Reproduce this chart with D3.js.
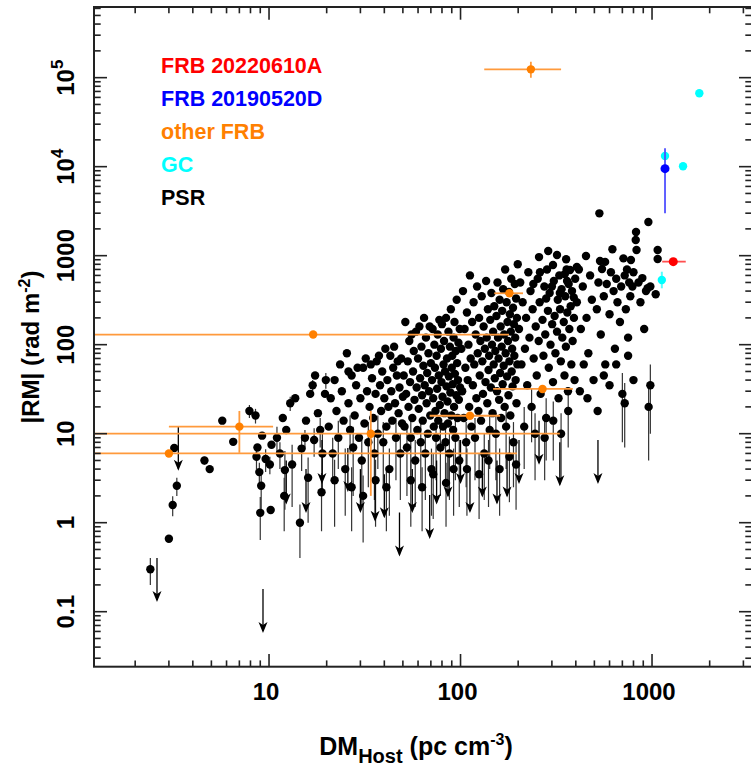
<!DOCTYPE html>
<html><head><meta charset="utf-8">
<script src="https://cdn.jsdelivr.net/npm/d3@7"></script>
<style>
body{margin:0;background:#fff}
text{font-family:"Liberation Sans",Arial,Helvetica,sans-serif;font-weight:bold}
</style></head>
<body><svg id="c" width="751" height="769"></svg>
<script>
// ---------------- data ----------------
// pulsars with measured RM, as [DM, |RM|, RM error] (error optional)
const psrLowDM = [[2.4,0.3,0.1],[3.0,0.66],[3.14,1.58,0.4],[3.3,2.6,0.6],[3.2,6.9],[4.6,5.0,0.5],[4.9,4.0],
 [5.7,14],[6.5,8.1],[7.9,18,3],[8.5,16,3],[8.6,5.5,1.5],[8.7,7.0],[8.9,3.7,1],[9.0,1.29,0.65],[10.2,1.39],
 [9.2,9.5],[9.1,2.6,1.2],[9.6,5.2,1.5],[10.3,7.5],[10.1,4.5,1]];
const psrDM10 = [[11.0,9,3],[11.4,6,2],[12.1,3.9,2.5],[12.3,11],[12.9,22,4],[13.7,25],[14.5,1.0,0.6],[14.8,6.8,3],
 [15.4,9,2],[15.6,14],[16.4,28],[16.9,35,5],[17.4,45],[18.0,17],[18.5,11,4],[19.0,6,4],[19.6,28],[13.2,4.5,3],
 [16,3.2,2.2],[18.8,2.2,1.4],[12.0,2.0,1.2],[17.2,8.5,3],[19.8,40,8],[11.8,15]];
const psrDM20 = [[20.5,12],[21,25],[21.5,6,3],[22,40],[22.5,18],[23,9,5],[23.5,60],[24,30],[24.5,14],[25,4,2.8],
 [25.5,80],[26,22],[26.5,11,5],[27,45],[27.5,7,5],[28,16],[28.5,35],[29,55],[29.5,9],[30,25],[30.5,5,3.5],
 [31,55],[31.5,13],[32,70],[32.5,30],[33,8,5.5],[33.5,20],[34,60],[34.5,42],[35,15],[35.5,6,4.2],[36,28],[36.5,65],
 [37,10,6],[37.5,75],[38,35],[38.5,18],[39,50],[39.5,8,5.5],[40,25],[40.5,90],[41,12],[41.5,40],[42,20],
 [42.5,4,2.8],[43,75],[43.5,30],[44,14],[44.5,55],[45,95],[45.5,22],[46,9,6],[46.5,45],[47,65],[47.5,17],
 [48,33],[48.5,6,4.2],[49,70],[49.5,13],[50,26],[22,3,2.1],[27,2.5,1.7],[31,2,1.4],[36,3,2.1],[41,2.5,1.7],[26,50]];
const psrDM50 = [[50.5,45],[51,12],[51.5,180],[52,28],[52.5,7,5],[53,65],[53.5,20],[54,110],[54.5,38],[55,9,6],
 [55.5,130],[56,15],[56.5,50],[57,85],[57.5,24],[58,5,3.5],[58.5,140],[59,33],[59.5,11],[60,70],[60.5,19],
 [61,160],[61.5,42],[62,8,5.5],[62.5,95],[63,27],[63.5,14],[64,58],[64.5,200],[65,35],[65.5,6,4.2],[66,120],
 [66.5,22],[67,48],[67.5,10],[68,80],[68.5,30],[69,160],[69.5,16],[70,62],[70.5,4,2.8],[71,40],[71.5,150],
 [72,25],[72.5,12],[73,100],[73.5,55],[74,18],[74.5,9,6],[75,75],[75.5,32],[76,130],[76.5,14],[77,45],
 [77.5,190],[78,21],[78.5,7,5],[79,90],[79.5,38],[80,170],[80.5,26],[81,12],[81.5,60],[82,110],[82.5,17],
 [83,50],[83.5,8,5.5],[84,200],[84.5,34],[85,70],[85.5,23],[86,13],[86.5,140],[87,44],[87.5,6,4.2],[88,95],
 [88.5,29],[89,250],[89.5,16],[90,55],[90.5,75],[91,36],[91.5,11],[92,120],[92.5,20],[93,180],[93.5,47],
 [94,9,6],[94.5,85],[95,27],[95.5,320],[96,62],[96.5,15],[97,40],[97.5,105],[98,24],[98.5,5,3.5],[99,150],
 [99.5,33],[55,3,2.1],[63,2.5,1.7],[72,3.5,2.4],[84,2.8,1.9],[92,4,2.8]];
const psrDM100 = [[101,90],[102,30],[103,400],[104,15],[105,150],[106,55],[107,8,5.5],[108,230],[109,40],[110,100],
 [111,20],[112,600],[113,70],[114,12],[115,180],[116,35],[117,300],[118,60],[119,9,6],[120,130],[121,25],
 [122,450],[123,80],[124,18],[125,200],[126,45],[127,110],[128,14],[129,350],[130,65],[131,28],[132,160],
 [133,6,4.2],[134,90],[135,38],[136,520],[137,120],[138,22],[139,250],[140,52],[141,75],[142,11,7],[143,190],
 [144,33],[145,380],[146,100],[147,17],[148,140],[149,60],[150,270],[151,42],[152,85],[153,10,7],[154,210],
 [155,30],[156,500],[157,120],[158,70],[159,24],[160,320],[161,48],[162,160],[163,15],[164,95],[165,240],
 [166,36],[167,420],[168,58],[169,130],[170,20],[171,700],[172,80],[173,12,8],[174,300],[175,44],[176,180],
 [177,110],[178,27],[179,390],[180,65],[181,220],[182,16],[183,140],[184,550],[185,50],[186,90],[187,34],
 [188,260],[189,8,5.5],[190,170],[191,75],[192,480],[193,120],[194,40],[195,330],[196,22],[197,200],[198,60],
 [199,800],[108,4,2.8],[125,3.5,2.4],[140,5,3.5],[160,4,2.8],[180,5.5,3.8],[195,4.5,3.1]];
const psrDM200 = [[202,150],[205,500],[208,60],[211,300],[217,90],[220,200],[223,35],[226,650],[229,120],
 [232,400],[235,20,12],[238,250],[241,70],[247,160],[250,45],[253,550],[256,110],[259,300],[262,28],[268,190],
 [271,75],[274,450],[277,130],[280,15,10],[283,700],[286,240],[289,55],[292,380],[295,100],[301,170],[304,38],
 [307,520],[310,210],[313,80],[319,140],[322,320],[325,25],[328,600],[331,250],[334,65],[337,420],[340,120],
 [346,180],[349,45],[352,350],[355,95],[358,700],[361,230],[364,30],[367,480],[370,150],[376,270],[379,60],
 [382,400],[385,110],[391,200],[394,40],[397,550],[215,12,8],[245,10,7],[275,9,6],[305,14,9],[335,10,7],
 [365,18,11],[240,480],[260,650],[300,450],[330,380],[360,520],[390,340],[350,620],[280,330],
 [257,964],[287,1127],[319,1016],[304,787],[356,912],[373,691]];
const psrDM400 = [[405,746],[452,990],[535,871],[569,851],[548,708],[621,1180],[709,933],[776,895],
 [531,2990],[957,2390],[825,1845],[822,1500],[830,1160],
 [405,300],[415,700],[425,150],[435,450],[455,200],[465,80],[475,600],[485,320],[495,40],
 [515,250],[525,500],[540,130],[560,350],[570,60],[580,480],[600,220],[610,650],[630,400],[640,90],
 [650,550],[660,300],[680,180],[690,450],[720,600],[730,250],[740,700],[750,120],[760,500],[770,350],
 [790,450],[800,650],[850,500],[870,300],[890,560],[910,150],[930,400],[980,450],[420,30],[460,25],
 [520,18],[600,35],[800,40],[440,60],[560,45],[650,60],[750,75],[700,28,20],[720,22,15],[980,35,25],[960,20,15]];
const psrDM1000 = [[1070,1160],[1070,918],[1045,368],[948,430]];
// pulsars with upper limits on RM, as [DM, |RM| limit]
const psrLimits = [[2.6,0.4],[3.36,12],[9.3,0.18],[12.3,5],[15.6,4],[18.9,8.5],[25.8,6.9],[30,4],[35.8,3.2],
 [40,3.5],[48,1.3],[56,4],[69,2.05],[75,5],[86,6],[100,8.5],[112,4],[130,6],[155,5],[175,6],[202,8.5],
 [257,14],[330,8],[522,8.5]];
// other FRBs
const frbDM   = [3.0, 7.0, 17, 34, 112, 180, 268, 233];
const frbRM   = [6.0, 12, 130, 10, 15.9, 378, 31.8, 1.24e5];
const frbDMlo = [1.0, 3.0, 1.0, 1.0, 69, 150, 148, 133];
const frbDMhi = [197, 10.5, 179, 330, 161, 212, 386, 335];
const frbRMlo = [5.5, 6.1, 125, 2.0, 14.5, 360, 29, 1.0e5];
const frbRMhi = [6.5, 18, 135, 18, 17, 395, 35, 1.51e5];
// FRB 20220610A
const redDM = [1291], redRM = [857], redDMlo = [1130], redDMhi = [1500];
// FRB 20190520D
const blueDM = [1169], blueRM = [9500], blueRMlo = [2990], blueRMhi = [16100], blueDMlo=[1130], blueDMhi=[1210];
// Galactic centre
const gcDM = [1766, 1169, 1452, 1125];
const gcRM = [66800, 13200, 10100, 533];
const gcRMlo = [66800, 12000, 10100, 430];
const gcRMhi = [66800, 14500, 10100, 660];
// legend and tick labels
const legendLabels = ["FRB 20220610A","FRB 20190520D","other FRB","GC","PSR"];
const legendColors = ["#ff0000","#0000ff","#ff8000","#00ffff","#000000"];
const xTickVals = [10,100,1000], xTickLabels = ["10","100","1000"];
const yTickVals = [0.1,1,10,100,1000,1e4,1e5];
const yTickLabels = [["0.1"],["1"],["10"],["100"],["1000"],["10","4"],["10","5"]];

// ---------------- drawing ----------------
const L=94, R=752, T=7, B=666.7;
const svg = d3.select("#c");
const x = d3.scaleLog().domain([1.219, 3327]).range([L, R]);
const y = d3.scaleLog().domain([0.0241, 6.22e5]).range([B, T]);

svg.append("clipPath").attr("id","clip").append("rect")
  .attr("x",L).attr("y",T).attr("width",R-L).attr("height",B-T);
const g = svg.append("g").attr("clip-path","url(#clip)");

const psr = [].concat(psrLowDM, psrDM10, psrDM20, psrDM50, psrDM100, psrDM200, psrDM400, psrDM1000)
  .map(p=>({d:p[0], r:p[1], e:p[2]||0}));
// PSR error bars
g.selectAll(".pe").data(psr.filter(p=>p.e>0)).join("line")
  .attr("x1",p=>x(p.d)).attr("x2",p=>x(p.d))
  .attr("y1",p=>y(p.r+p.e)).attr("y2",p=>y(Math.max(p.r-p.e, p.r*0.05)))
  .attr("stroke","#333").attr("stroke-width",1.2);
// PSR limits
const lim = psrLimits.map(p=>({d:p[0], r:p[1]}));
const lg = g.selectAll(".lim").data(lim).join("g")
  .attr("transform",p=>`translate(${x(p.d)},${y(p.r)})`);
lg.append("line").attr("y1",0).attr("y2",42).attr("stroke","#000").attr("stroke-width",1.3);
lg.append("path").attr("d","M0,44 L-4.5,33 L0,36 L4.5,33 Z").attr("fill","#000");
// PSR points
g.selectAll(".pd").data(psr).join("circle")
  .attr("cx",p=>x(p.d)).attr("cy",p=>y(p.r)).attr("r",4.2).attr("fill","#000");

// other FRBs
const frb = frbDM.map((d,i)=>({d, r:frbRM[i], dl:frbDMlo[i], dh:frbDMhi[i], rl:frbRMlo[i], rh:frbRMhi[i]}));
g.selectAll(".fh").data(frb).join("line")
  .attr("x1",f=>x(f.dl)).attr("x2",f=>x(f.dh)).attr("y1",f=>y(f.r)).attr("y2",f=>y(f.r))
  .attr("stroke","#ff9a3c").attr("stroke-width",1.8);
g.selectAll(".fv").data(frb).join("line")
  .attr("x1",f=>x(f.d)).attr("x2",f=>x(f.d)).attr("y1",f=>y(f.rl)).attr("y2",f=>y(f.rh))
  .attr("stroke","#ff9a3c").attr("stroke-width",1.8);
g.selectAll(".fd").data(frb).join("circle")
  .attr("cx",f=>x(f.d)).attr("cy",f=>y(f.r)).attr("r",4.2).attr("fill","#ff8000");

// GC
const gc = gcDM.map((d,i)=>({d, r:gcRM[i], rl:gcRMlo[i], rh:gcRMhi[i]}));
g.selectAll(".gv").data(gc).join("line")
  .attr("x1",c=>x(c.d)).attr("x2",c=>x(c.d)).attr("y1",c=>y(c.rl)).attr("y2",c=>y(c.rh))
  .attr("stroke","#55ffff").attr("stroke-width",2);
g.selectAll(".gd").data(gc).join("circle")
  .attr("cx",c=>x(c.d)).attr("cy",c=>y(c.r)).attr("r",4.2).attr("fill","#00ffff");

// FRB 20190520D
g.append("line").attr("x1",x(blueDM[0])).attr("x2",x(blueDM[0]))
  .attr("y1",y(blueRMlo[0])).attr("y2",y(blueRMhi[0])).attr("stroke","#5050ff").attr("stroke-width",1.8);
g.append("line").attr("x1",x(blueDMlo[0])).attr("x2",x(blueDMhi[0]))
  .attr("y1",y(blueRM[0])).attr("y2",y(blueRM[0])).attr("stroke","#5050ff").attr("stroke-width",1.8);
g.append("circle").attr("cx",x(blueDM[0])).attr("cy",y(blueRM[0])).attr("r",4.5).attr("fill","#0000ff");
// FRB 20220610A
g.append("line").attr("x1",x(redDMlo[0])).attr("x2",x(redDMhi[0]))
  .attr("y1",y(redRM[0])).attr("y2",y(redRM[0])).attr("stroke","#ff5050").attr("stroke-width",1.8);
g.append("circle").attr("cx",x(redDM[0])).attr("cy",y(redRM[0])).attr("r",4.5).attr("fill","#ff0000");

// ---------------- axes ----------------
function minorTicks(dom){
  const out=[]; const a=Math.floor(Math.log10(dom[0])), b=Math.ceil(Math.log10(dom[1]));
  for(let e=a;e<=b;e++) for(let m=1;m<10;m++){const v=m*Math.pow(10,e); if(v>=dom[0]&&v<=dom[1]) out.push(v);}
  return out;
}
const xt = minorTicks(x.domain()), yt = minorTicks(y.domain());
const isMajor = v => Math.abs(Math.log10(v)-Math.round(Math.log10(v)))<1e-9;
const ax = svg.append("g").attr("stroke","#222").attr("stroke-width",1.6);
xt.forEach(v=>{
  const len = isMajor(v)?12.7:6.3, px=x(v);
  ax.append("line").attr("x1",px).attr("x2",px).attr("y1",B).attr("y2",B-len);
  ax.append("line").attr("x1",px).attr("x2",px).attr("y1",T).attr("y2",T+len);
});
yt.forEach(v=>{
  const len = isMajor(v)?13:6.7, py=y(v);
  ax.append("line").attr("x1",L).attr("x2",L+len).attr("y1",py).attr("y2",py);
  ax.append("line").attr("x1",R).attr("x2",R-len).attr("y1",py).attr("y2",py);
});
svg.append("rect").attr("x",L).attr("y",T).attr("width",R-L).attr("height",B-T)
  .attr("fill","none").attr("stroke","#222").attr("stroke-width",2);

// tick labels
xTickVals.forEach((v,i)=>{
  svg.append("text").attr("x",x(v)-3).attr("y",700).attr("text-anchor","middle")
    .attr("font-size",24).text(xTickLabels[i]);
});
yTickVals.forEach((v,i)=>{
  const t = svg.append("text").attr("transform",`translate(74,${y(v)}) rotate(-90)`)
    .attr("text-anchor","middle").attr("font-size",24);
  t.append("tspan").text(yTickLabels[i][0]);
  if(yTickLabels[i][1]) t.append("tspan").attr("dy",-11).attr("font-size",17).text(yTickLabels[i][1]);
});

// axis titles
const xt1 = svg.append("text").attr("x",416).attr("y",755).attr("text-anchor","middle").attr("font-size",25);
xt1.append("tspan").text("DM");
xt1.append("tspan").attr("dy",8).attr("font-size",20).text("Host");
xt1.append("tspan").attr("dy",-8).text(" (pc cm");
xt1.append("tspan").attr("dy",-10).attr("font-size",16).text("-3");
xt1.append("tspan").attr("dy",10).text(")");
const yt1 = svg.append("text").attr("transform","translate(39,347) rotate(-90)").attr("text-anchor","middle").attr("font-size",24);
yt1.append("tspan").text("|RM| (rad m");
yt1.append("tspan").attr("dy",-9).attr("font-size",16).text("-2");
yt1.append("tspan").attr("dy",9).text(")");

// legend
legendLabels.forEach((s,i)=>{
  svg.append("text").attr("x",161).attr("y",73+i*33).attr("font-size",21.5)
    .attr("fill",legendColors[i]).text(s);
});
</script></body></html>
